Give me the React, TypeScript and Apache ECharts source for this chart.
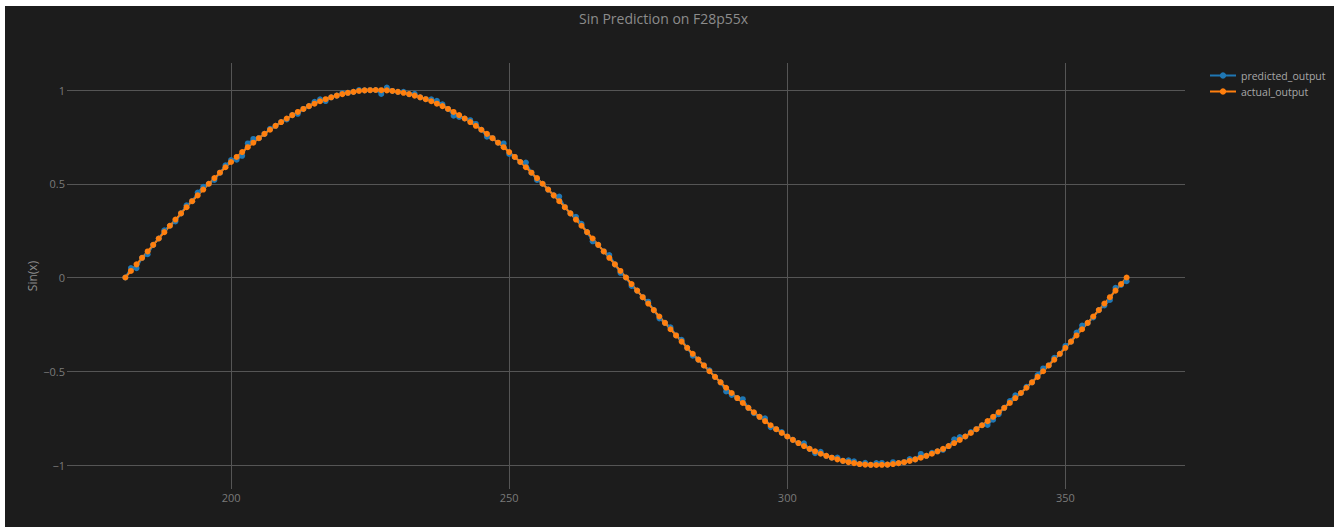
import React, { useEffect, useRef } from "react";
import * as echarts from "echarts";

const xValues: number[] = [
  181, 182, 183, 184, 185, 186, 187, 188, 189, 190, 191, 192, 193, 194, 195, 196, 197, 198, 199, 200,
  201, 202, 203, 204, 205, 206, 207, 208, 209, 210, 211, 212, 213, 214, 215, 216, 217, 218, 219, 220,
  221, 222, 223, 224, 225, 226, 227, 228, 229, 230, 231, 232, 233, 234, 235, 236, 237, 238, 239, 240,
  241, 242, 243, 244, 245, 246, 247, 248, 249, 250, 251, 252, 253, 254, 255, 256, 257, 258, 259, 260,
  261, 262, 263, 264, 265, 266, 267, 268, 269, 270, 271, 272, 273, 274, 275, 276, 277, 278, 279, 280,
  281, 282, 283, 284, 285, 286, 287, 288, 289, 290, 291, 292, 293, 294, 295, 296, 297, 298, 299, 300,
  301, 302, 303, 304, 305, 306, 307, 308, 309, 310, 311, 312, 313, 314, 315, 316, 317, 318, 319, 320,
  321, 322, 323, 324, 325, 326, 327, 328, 329, 330, 331, 332, 333, 334, 335, 336, 337, 338, 339, 340,
  341, 342, 343, 344, 345, 346, 347, 348, 349, 350, 351, 352, 353, 354, 355, 356, 357, 358, 359, 360,
  361,
];

const actualOutput: number[] = [
  0, 0.035, 0.07, 0.105, 0.139, 0.174, 0.208, 0.242, 0.276, 0.309,
  0.342, 0.375, 0.407, 0.438, 0.469, 0.5, 0.53, 0.559, 0.588, 0.616,
  0.643, 0.669, 0.695, 0.719, 0.743, 0.766, 0.788, 0.809, 0.829, 0.848,
  0.866, 0.883, 0.899, 0.914, 0.927, 0.94, 0.951, 0.961, 0.97, 0.978,
  0.985, 0.99, 0.995, 0.998, 0.999, 1.0, 0.999, 0.998, 0.995, 0.99,
  0.985, 0.978, 0.97, 0.961, 0.951, 0.94, 0.927, 0.914, 0.899, 0.883,
  0.866, 0.848, 0.829, 0.809, 0.788, 0.766, 0.743, 0.719, 0.695, 0.669,
  0.643, 0.616, 0.588, 0.559, 0.53, 0.5, 0.469, 0.438, 0.407, 0.375,
  0.342, 0.309, 0.276, 0.242, 0.208, 0.174, 0.139, 0.105, 0.07, 0.035,
  0, -0.035, -0.07, -0.105, -0.139, -0.174, -0.208, -0.242, -0.276, -0.309,
  -0.342, -0.375, -0.407, -0.438, -0.469, -0.5, -0.53, -0.559, -0.588, -0.616,
  -0.643, -0.669, -0.695, -0.719, -0.743, -0.766, -0.788, -0.809, -0.829, -0.848,
  -0.866, -0.883, -0.899, -0.914, -0.927, -0.94, -0.951, -0.961, -0.97, -0.978,
  -0.985, -0.99, -0.995, -0.998, -0.999, -1.0, -0.999, -0.998, -0.995, -0.99,
  -0.985, -0.978, -0.97, -0.961, -0.951, -0.94, -0.927, -0.914, -0.899, -0.883,
  -0.866, -0.848, -0.829, -0.809, -0.788, -0.766, -0.743, -0.719, -0.695, -0.669,
  -0.643, -0.616, -0.588, -0.559, -0.53, -0.5, -0.469, -0.438, -0.407, -0.375,
  -0.342, -0.309, -0.276, -0.242, -0.208, -0.174, -0.139, -0.105, -0.07, -0.035,
  0,
];

const predictedOutput: number[] = [
  0, 0.05, 0.05, 0.105, 0.124, 0.174, 0.208, 0.252, 0.276, 0.299,
  0.342, 0.385, 0.407, 0.453, 0.484, 0.5, 0.52, 0.559, 0.598, 0.626,
  0.628, 0.649, 0.715, 0.739, 0.743, 0.766, 0.793, 0.809, 0.829, 0.843,
  0.866, 0.873, 0.899, 0.914, 0.937, 0.95, 0.941, 0.961, 0.97, 0.983,
  0.985, 0.99, 1.0, 0.998, 0.999, 1.0, 0.979, 1.013, 0.995, 0.99,
  0.99, 0.978, 0.98, 0.961, 0.951, 0.95, 0.942, 0.924, 0.899, 0.863,
  0.856, 0.848, 0.839, 0.819, 0.788, 0.751, 0.743, 0.719, 0.715, 0.659,
  0.643, 0.616, 0.613, 0.559, 0.52, 0.5, 0.469, 0.438, 0.432, 0.375,
  0.342, 0.324, 0.286, 0.242, 0.193, 0.174, 0.139, 0.12, 0.07, 0.025,
  0, -0.045, -0.07, -0.105, -0.129, -0.174, -0.218, -0.242, -0.266, -0.309,
  -0.332, -0.375, -0.417, -0.438, -0.469, -0.495, -0.53, -0.559, -0.608, -0.626,
  -0.643, -0.649, -0.695, -0.724, -0.743, -0.751, -0.798, -0.809, -0.824, -0.848,
  -0.866, -0.883, -0.884, -0.914, -0.937, -0.93, -0.951, -0.961, -0.96, -0.978,
  -0.975, -0.98, -0.995, -0.988, -0.999, -0.99, -0.989, -0.998, -0.985, -0.99,
  -0.985, -0.968, -0.97, -0.941, -0.951, -0.935, -0.927, -0.919, -0.899, -0.863,
  -0.851, -0.848, -0.824, -0.809, -0.788, -0.786, -0.758, -0.729, -0.695, -0.659,
  -0.628, -0.616, -0.583, -0.559, -0.52, -0.485, -0.469, -0.428, -0.407, -0.365,
  -0.342, -0.294, -0.256, -0.242, -0.213, -0.174, -0.149, -0.12, -0.055, -0.04,
  -0.02,
];

const xTicks: number[] = [200, 250, 300, 350];
const yTicks: number[] = [-1, -0.5, 0, 0.5, 1];

const fmtY = (v: number) => (v < 0 ? "\u2212" + String(Math.abs(v)) : String(v));

export default function App() {
  const ref = useRef<HTMLDivElement>(null);

  useEffect(() => {
    if (!ref.current) return;
    const chart = echarts.init(ref.current, undefined, { renderer: "svg" });
    const font = "'Open Sans', 'Noto Sans', sans-serif";
    chart.setOption({
      animation: false,
      backgroundColor: "#1c1c1c",
      textStyle: { fontFamily: font },
      title: {
        text: "Sin Prediction on F28p55x",
        left: 569,
        top: 0,
        textStyle: { color: "#8c8c8c", fontSize: 14, fontWeight: "normal", fontFamily: font },
      },
      legend: {
        orient: "vertical",
        left: 1199,
        top: 59,
        itemWidth: 26,
        itemHeight: 8,
        itemGap: 5,
        textStyle: { color: "#a8a8a8", fontSize: 10.5, fontFamily: font },
        data: ["predicted_output", "actual_output"],
      },
      grid: {
        left: 62,
        right: 149,
        top: 57,
        bottom: 38,
        containLabel: false,
        outerBoundsMode: "none",
      },
      xAxis: {
        type: "value",
        min: 170.5,
        max: 371.5,
        name: "x",
        nameLocation: "middle",
        nameGap: 34,
        nameMoveOverlap: false,
        nameTextStyle: { color: "#8c8c8c", fontSize: 12, verticalAlign: "top" },
        axisLine: { show: false },
        axisTick: { show: false, customValues: xTicks },
        axisLabel: { customValues: xTicks, color: "#7a7a7a", fontSize: 11, margin: 3, fontFamily: font },
        splitLine: { show: true, lineStyle: { color: "#555555", width: 1 } },
      },
      yAxis: {
        type: "value",
        min: -1.128,
        max: 1.144,
        name: "Sin(x)",
        nameLocation: "middle",
        nameGap: 29,
        nameMoveOverlap: false,
        nameRotate: 90,
        nameTextStyle: { color: "#8c8c8c", fontSize: 12 },
        axisLine: { show: false },
        axisTick: { show: false, customValues: yTicks },
        axisLabel: { customValues: yTicks, color: "#7a7a7a", fontSize: 11, margin: 2, formatter: fmtY, fontFamily: font },
        splitLine: { show: true, lineStyle: { color: "#555555", width: 1 } },
      },
      series: [
        {
          name: "predicted_output",
          type: "line",
          data: xValues.map((x, i) => [x, predictedOutput[i]]),
          symbol: "circle",
          symbolSize: 6,
          showAllSymbol: true,
          itemStyle: { color: "#1f77b4" },
          lineStyle: { color: "#1f77b4", width: 2 },
        },
        {
          name: "actual_output",
          type: "line",
          data: xValues.map((x, i) => [x, actualOutput[i]]),
          symbol: "circle",
          symbolSize: 6,
          showAllSymbol: true,
          itemStyle: { color: "#ff7f0e" },
          lineStyle: { color: "#ff7f0e", width: 2 },
        },
      ],
    });
    return () => chart.dispose();
  }, []);

  return (
    <div
      ref={ref}
      style={{ position: "absolute", left: 5, top: 6, width: 1329, height: 521 }}
    />
  );
}
